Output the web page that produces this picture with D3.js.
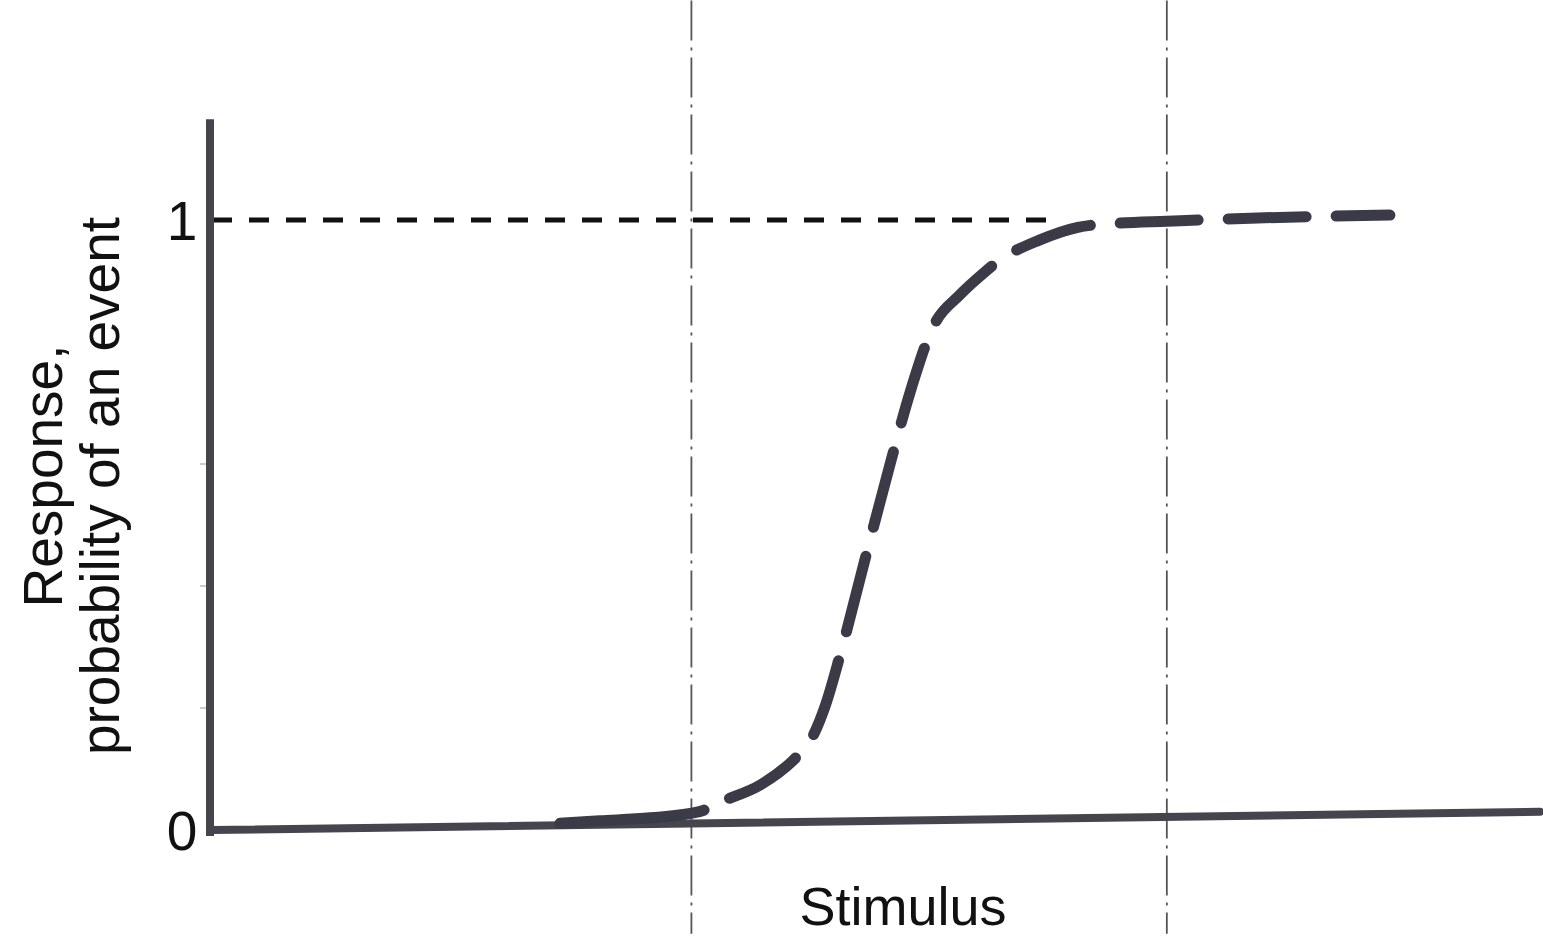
<!DOCTYPE html>
<html>
<head>
<meta charset="utf-8">
<script src="https://cdn.jsdelivr.net/npm/d3@7"></script>
<style>
    body { margin: 0; background: #fff; }
    svg text { font-family: "Liberation Sans", Arial, sans-serif; fill: #111; }
</style>
</head>
<body>
<div id="chart"></div>
<script>

// stimulus (0-100) and response probability
const stimulus = [26.2, 29.2, 33.0, 36.7, 38.3, 41.3, 43.8, 45.0, 46.2, 47.3, 49.2, 51.1, 52.6, 54.3, 56.3, 58.1, 59.3, 62.3, 65.2, 68.4, 71.9, 78.2, 88.7];
const response = [0.011, 0.015, 0.020, 0.030, 0.046, 0.074, 0.115, 0.144, 0.205, 0.287, 0.446, 0.603, 0.720, 0.825, 0.877, 0.913, 0.934, 0.967, 0.988, 0.995, 0.998, 1.003, 1.008];

// x axis is drawn a little crooked in the original
const baseX = [0, 100];
const baseY = [0, 0.03];

const guideX = [36.1, 71.9];     // the two dash-dot verticals
const guideSpan = [-0.17, 1.36];
const yAxisSpan = [-0.01, 1.165];

const refLevel = 1;
const refSpan = [0, 63.9];

const yTickVals = [0, 1];
const yTickLabels = ["0", "1"];
const minorTicks = [0.2, 0.4, 0.6];

const xTitle = "Stimulus";
const yTitle = ["Response,", "probability of an event"];

const width = 1543, height = 936;

const svg = d3.select("#chart").append("svg")
    .attr("width", width)
    .attr("height", height);

const xScale = d3.scaleLinear().domain([0, 100]).range([212, 1540]);
const yScale = d3.scaleLinear().domain([0, 1]).range([830, 220]);

// vertical guides
svg.selectAll(".guide")
    .data(guideX).enter()
    .append("line")
    .attr("class", "guide")
    .attr("x1", d => xScale(d))
    .attr("x2", d => xScale(d))
    .attr("y1", yScale(guideSpan[1]))
    .attr("y2", yScale(guideSpan[0]))
    .attr("stroke", "#555")
    .attr("stroke-width", 1.8)
    .attr("stroke-dasharray", "40,7,3,7");

// dashed reference at response = 1
svg.append("line")
    .attr("x1", xScale(refSpan[0]))
    .attr("x2", xScale(refSpan[1]))
    .attr("y1", yScale(refLevel))
    .attr("y2", yScale(refLevel))
    .attr("stroke", "#111")
    .attr("stroke-width", 5)
    .attr("stroke-dasharray", "20,17");

// faint minor ticks left of the y axis
svg.selectAll(".minor")
    .data(minorTicks).enter()
    .append("line")
    .attr("x1", xScale(0) - 12)
    .attr("x2", xScale(0) - 3)
    .attr("y1", d => yScale(d))
    .attr("y2", d => yScale(d))
    .attr("stroke", "#bbb")
    .attr("stroke-width", 1.5);

// axes
svg.append("line")
    .attr("x1", xScale(0) - 2)
    .attr("x2", xScale(0) - 2)
    .attr("y1", yScale(yAxisSpan[1]))
    .attr("y2", yScale(yAxisSpan[0]))
    .attr("stroke", "#45454d")
    .attr("stroke-width", 8);

svg.append("line")
    .attr("x1", xScale(baseX[0]))
    .attr("x2", xScale(baseX[1]))
    .attr("y1", yScale(baseY[0]))
    .attr("y2", yScale(baseY[1]))
    .attr("stroke", "#45454d")
    .attr("stroke-width", 8)
    .attr("stroke-linecap", "round");

// the sigmoid, solid where it leaves the axis then dashed
const line = d3.line()
    .curve(d3.curveMonotoneX)
    .x((d, i) => xScale(stimulus[i]))
    .y((d, i) => yScale(response[i]));

const curve = svg.append("path")
    .attr("d", line(response))
    .attr("fill", "none")
    .attr("stroke", "#3b3b48")
    .attr("stroke-width", 11)
    .attr("stroke-linecap", "round");

let len = curve.node().getTotalLength();
let dashes = [145, 28];
let used = 173;
while (used < len) {
    dashes.push(78, 30);
    used += 108;
}
curve.attr("stroke-dasharray", dashes.join(","));

// tick labels
svg.selectAll(".ylab")
    .data(yTickVals).enter()
    .append("text")
    .attr("x", 182)
    .attr("y", d => yScale(d) + 20)
    .attr("text-anchor", "middle")
    .attr("font-size", 55)
    .text((d, i) => yTickLabels[i]);

// titles
svg.append("text")
    .attr("x", 903)
    .attr("y", 925)
    .attr("text-anchor", "middle")
    .attr("font-size", 54)
    .text(xTitle);

svg.selectAll(".ytitle")
    .data(yTitle).enter()
    .append("text")
    .attr("transform", (d, i) => `translate(${i ? 119 : 62},${i ? 486 : 476}) rotate(-90)`)
    .attr("text-anchor", "middle")
    .attr("font-size", 55)
    .text(d => d);

</script>
</body>
</html>
